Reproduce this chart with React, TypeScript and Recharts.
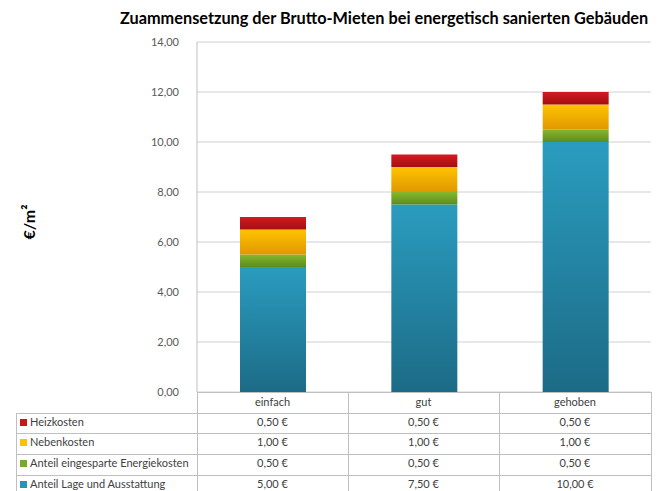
import { BarChart, Bar, XAxis, YAxis, CartesianGrid } from 'recharts'

const categories = ['einfach', 'gut', 'gehoben']
const lageValues = [5.0, 7.5, 10.0]
const energieValues = [0.5, 0.5, 0.5]
const nebenValues = [1.0, 1.0, 1.0]
const heizValues = [0.5, 0.5, 0.5]
const yTicks = [0, 2, 4, 6, 8, 10, 12, 14]

const data = categories.map((name, i) => ({
  name,
  lage: lageValues[i],
  energie: energieValues[i],
  neben: nebenValues[i],
  heiz: heizValues[i],
}))

// table rows top to bottom (reverse of stack order)
const rows = [
  { label: 'Heizkosten', color: '#c8161d', values: heizValues },
  { label: 'Nebenkosten', color: '#ffc000', values: nebenValues },
  { label: 'Anteil eingesparte Energiekosten', color: '#78a832', values: energieValues },
  { label: 'Anteil Lage und Ausstattung', color: '#2a93b5', values: lageValues },
]

const fmt = (v: number) => v.toFixed(2).replace('.', ',')
const FONT = 'Lato, "Noto Sans", sans-serif'
const LINE = '#bfbfbf'

// table geometry follows the plot area (left 197, right 651, bottom 392)
const colX = [16, 197, 348, 499, 651]
const rowY = [392, 413, 433, 454, 475]

function DataTable() {
  const lines = []
  // horizontal lines
  rowY.slice(1).forEach((y, i) => {
    lines.push(<div key={'h' + i} style={{ position: 'absolute', left: colX[0], top: y, width: colX[4] - colX[0], height: 1, background: LINE }} />)
  })
  lines.push(<div key="htop" style={{ position: 'absolute', left: colX[1], top: rowY[0], width: colX[4] - colX[1], height: 1, background: LINE }} />)
  // vertical lines
  colX.forEach((x, i) => {
    const top = i === 0 ? rowY[1] : rowY[0]
    lines.push(<div key={'v' + i} style={{ position: 'absolute', left: x, top, width: 1, height: 491 - top, background: LINE }} />)
  })
  const cells = []
  categories.forEach((c, j) => {
    cells.push(
      <div key={'c' + j} style={{ position: 'absolute', left: colX[j + 1], width: colX[j + 2] - colX[j + 1], top: rowY[0] + 1, height: 20, lineHeight: '18px', textAlign: 'center' }}>{c}</div>
    )
  })
  rows.forEach((r, i) => {
    const top = rowY[i + 1]
    cells.push(
      <div key={'l' + i} style={{ position: 'absolute', left: colX[0] + 4, top, height: 18, lineHeight: '18px', whiteSpace: 'nowrap' }}>
        <span style={{ display: 'inline-block', width: 7, height: 7, background: r.color, marginRight: 3, verticalAlign: 'middle', position: 'relative', top: -1 }} />
        {r.label}
      </div>
    )
    r.values.forEach((v, j) => {
      cells.push(
        <div key={'v' + i + '-' + j} style={{ position: 'absolute', left: colX[j + 1], width: colX[j + 2] - colX[j + 1], top, height: 18, lineHeight: '18px', textAlign: 'center' }}>{fmt(v)} €</div>
      )
    })
  })
  return (
    <div style={{ position: 'absolute', left: 0, top: 0, width: 658, height: 491, fontSize: 11, color: '#404040', fontFamily: FONT, overflow: 'hidden' }}>
      {lines}
      {cells}
    </div>
  )
}

export default function App() {
  return (
    <div style={{ position: 'absolute', left: 0, top: 0, width: 658, height: 491, background: '#fff', fontFamily: FONT, overflow: 'hidden' }}>
      <div style={{ position: 'absolute', left: 0, right: 0, top: 8, paddingLeft: 120, fontSize: 16.3, fontWeight: 700, color: '#000', whiteSpace: 'nowrap' }}>
        Zuammensetzung der Brutto-Mieten bei energetisch sanierten Gebäuden
      </div>
      <div style={{ position: 'absolute', left: 28, top: 222, transform: 'translate(-50%, -50%) rotate(-90deg)', fontSize: 16, fontWeight: 700, color: '#000', whiteSpace: 'nowrap' }}>
        €/m²
      </div>
      <div style={{ position: 'absolute', left: 0, top: 0 }}>
        <BarChart width={658} height={491} data={data} margin={{ top: 42, right: 7, bottom: 99, left: 0 }}>
          <defs>
            <linearGradient id="gBlue" x1="0" y1="0" x2="0" y2="1">
              <stop offset="0%" stopColor="#2a9cbf" />
              <stop offset="100%" stopColor="#1c6b86" />
            </linearGradient>
            <linearGradient id="gGreen" x1="0" y1="0" x2="0" y2="1">
              <stop offset="0%" stopColor="#86b82c" />
              <stop offset="100%" stopColor="#5c8c1e" />
            </linearGradient>
            <linearGradient id="gYellow" x1="0" y1="0" x2="0" y2="1">
              <stop offset="0%" stopColor="#ffc300" />
              <stop offset="100%" stopColor="#e09800" />
            </linearGradient>
            <linearGradient id="gRed" x1="0" y1="0" x2="0" y2="1">
              <stop offset="0%" stopColor="#d41a22" />
              <stop offset="100%" stopColor="#a30f12" />
            </linearGradient>
          </defs>
          <CartesianGrid vertical={false} stroke="#d0d0d0" />
          <XAxis dataKey="name" hide />
          <YAxis
            width={197}
            domain={[0, 14]}
            ticks={yTicks}
            interval={0}
            tickFormatter={fmt}
            tick={{ fontSize: 11, fill: '#595959' }}
            tickLine={false}
            tickMargin={12}
            axisLine={{ stroke: LINE }}
          />
          <Bar dataKey="lage" stackId="a" barSize={66} fill="url(#gBlue)" isAnimationActive={false} />
          <Bar dataKey="energie" stackId="a" barSize={66} fill="url(#gGreen)" isAnimationActive={false} />
          <Bar dataKey="neben" stackId="a" barSize={66} fill="url(#gYellow)" isAnimationActive={false} />
          <Bar dataKey="heiz" stackId="a" barSize={66} fill="url(#gRed)" isAnimationActive={false} />
        </BarChart>
      </div>
      <DataTable />
    </div>
  )
}
